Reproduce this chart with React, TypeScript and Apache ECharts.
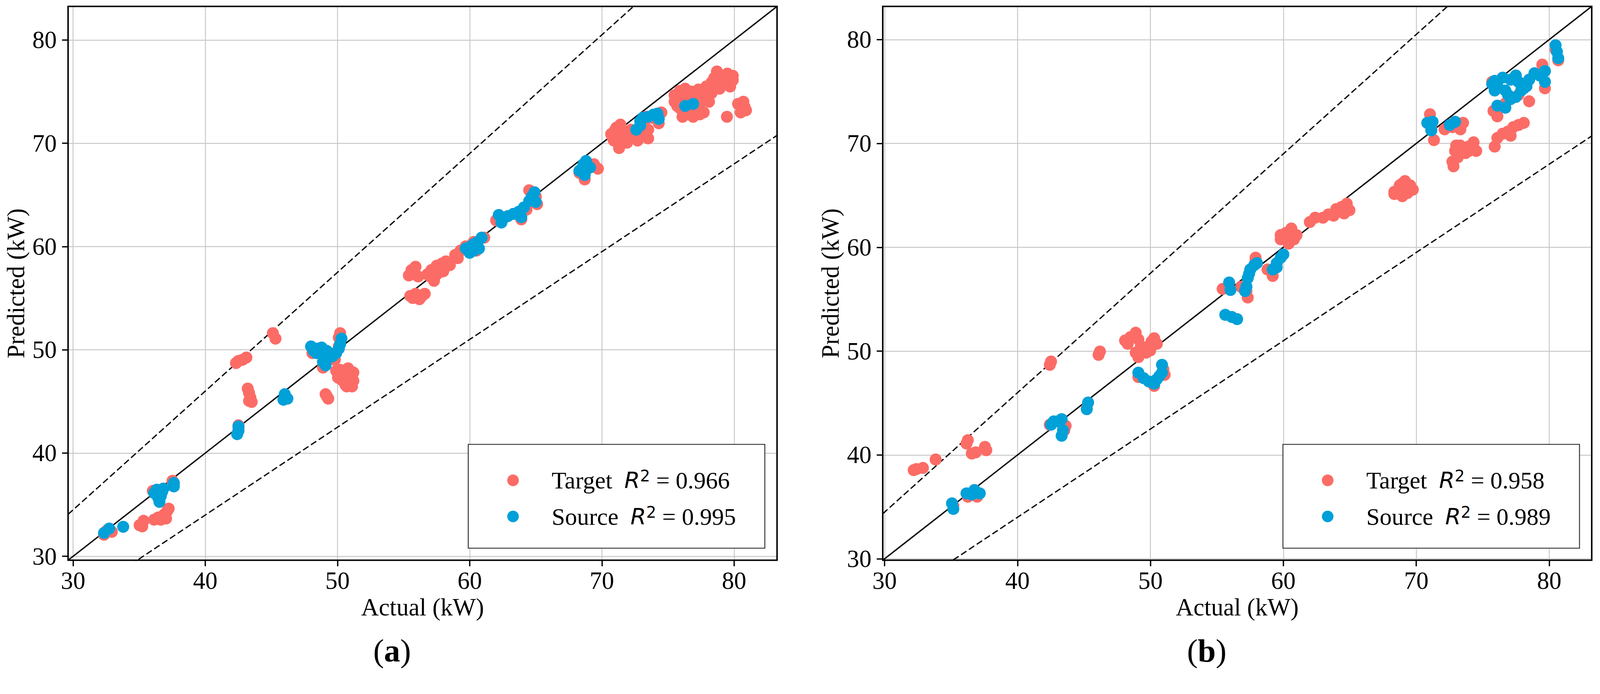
import React, { useEffect, useRef, useState } from 'react';
import * as echarts from 'echarts';

const W = 4254;
const H = 1776;

// ---- data ----
const tickValues = [30, 40, 50, 60, 70, 80];
const limitsA = [29.62, 83.25];
const limitsB = [29.86, 83.2];
const bandFactors = [1.15, 0.85];
const groupNames = ['Target', 'Source'];
const r2A = ['0.966', '0.995'];
const r2B = ['0.958', '0.989'];
const panelLetters = ['a', 'b'];

const targetA: [number, number][] = [
  [32.34, 32.09], [32.93, 32.37], [32.53, 32.47], [35.03, 33.01], [35.33, 33.44], [35.23, 32.9],
  [36.13, 33.55], [36.43, 33.76], [36.73, 33.87], [36.93, 34.09], [37.13, 34.41], [37.23, 34.62], [37.03, 33.66], [36.63, 33.55],
  [37.62, 37.1], [37.52, 37.31], [36.43, 36.13], [36.03, 36.34],
  [42.51, 42.37], [42.51, 42.69],
  [42.51, 48.92], [42.32, 48.71], [43.11, 49.25], [42.81, 49.03],
  [43.21, 46.24], [43.31, 45.81], [43.41, 45.38], [43.51, 44.95], [43.31, 45.05],
  [45.11, 51.61], [45.31, 51.08],
  [49.1, 45.7], [49.3, 45.27], [49.2, 45.48],
  [48.1, 49.68], [48.9, 48.28], [49.8, 49.03], [50.1, 50.32], [50.2, 51.61], [50.1, 51.18],
  [49.9, 47.96], [50.2, 48.06], [50.6, 47.85], [50.9, 47.63], [51.1, 47.31], [51.0, 46.77], [50.7, 46.45], [50.5, 46.88], [50.04, 47.31], [50.4, 47.53], [51.1, 46.45],
  [50.3, 47.1], [50.8, 47.0], [50.6, 46.6], [51.2, 47.8], [50.8, 48.2], [51.2, 47.0],
  [55.4, 57.2], [55.8, 57.41], [56.1, 57.1], [55.9, 58.04], [55.6, 57.72],
  [55.5, 55.21], [55.9, 55.42], [56.4, 55.21], [56.2, 54.9], [55.7, 55.01], [56.6, 55.42],
  [56.8, 57.3], [57.1, 57.72], [57.5, 58.14], [57.9, 58.35], [58.1, 57.93], [57.3, 56.68], [57.7, 57.51], [57.0, 57.1], [58.2, 58.56],
  [58.5, 58.2], [57.5, 57.3], [58.0, 57.6],
  [58.9, 59.18], [59.3, 59.6], [59.7, 60.02], [59.1, 58.87],
  [60.3, 60.44], [61.1, 60.86], [60.5, 59.6],
  [62.0, 62.53], [62.7, 62.84], [63.5, 63.16], [63.9, 62.63], [64.3, 63.57], [64.7, 64.62], [65.0, 64.83], [64.5, 65.45], [65.1, 64.1],
  [68.3, 67.13], [68.8, 67.75], [69.4, 67.96], [69.7, 67.54], [68.7, 66.5],
  [70.7, 70.89], [71.1, 71.52], [71.3, 70.47], [71.3, 69.53], [71.9, 71.1], [71.9, 70.05], [72.3, 70.68], [72.7, 70.26], [73.1, 70.89], [73.5, 70.47], [73.5, 71.31], [70.9, 70.26], [71.7, 70.68], [72.5, 71.1], [73.2, 72.14],
  [71.0, 71.3], [71.5, 70.0], [72.0, 70.4], [72.8, 70.9], [73.3, 71.0], [71.2, 70.8], [72.2, 71.3], [70.8, 70.6], [71.4, 71.8],
  [74.5, 72.98], [74.3, 71.93], [73.8, 72.46], [73.3, 72.56],
  [75.5, 74.65], [75.9, 75.07], [76.3, 75.28], [75.9, 73.4], [76.1, 72.56], [76.7, 74.02], [77.1, 74.44], [77.3, 73.4], [76.9, 72.56], [77.7, 74.86], [77.9, 75.49], [78.1, 74.02], [78.3, 75.9], [78.5, 76.32], [78.7, 76.95], [79.1, 76.53], [79.3, 75.9], [79.5, 76.74], [79.9, 76.53], [79.7, 75.49], [78.9, 75.28], [77.7, 72.98], [76.3, 74.23], [78.3, 74.86], [79.9, 76.11], [75.5, 74.02], [76.7, 72.98],
  [76.0, 74.0], [76.5, 73.2], [77.0, 73.8], [77.5, 74.0], [78.0, 75.2], [78.6, 75.6], [79.0, 76.0], [76.2, 74.8], [76.8, 75.0], [77.3, 75.2], [75.7, 73.6], [76.5, 72.8], [77.4, 72.8],
  [79.46, 72.56],
  [80.3, 73.81], [80.7, 74.02], [80.9, 73.19], [80.5, 72.98], [80.8, 73.5],
];

const sourceA: [number, number][] = [
  [32.34, 32.26], [32.73, 32.69], [33.79, 32.86],
  [36.13, 36.13], [36.43, 35.7], [36.53, 35.27], [36.73, 36.24], [36.83, 36.56], [36.33, 36.45], [36.63, 35.81],
  [37.62, 37.1], [37.62, 36.77],
  [42.51, 42.15], [42.51, 42.58], [42.41, 41.83],
  [46.01, 45.7], [46.21, 45.27], [45.91, 45.16],
  [48.0, 50.32], [48.2, 49.89], [48.5, 50.11], [48.8, 50.22], [49.2, 49.89], [49.4, 49.68], [49.2, 49.14], [49.1, 48.49], [48.9, 48.82], [49.6, 49.35], [49.9, 49.68], [50.1, 50.11], [50.2, 50.54], [50.3, 51.08], [48.4, 49.68], [48.99, 49.57],
  [59.7, 59.81], [60.1, 60.02], [60.3, 59.6], [60.6, 60.44], [60.9, 60.86], [60.3, 60.23], [60.7, 59.81], [60.0, 59.39],
  [62.2, 63.05], [62.4, 62.32], [62.9, 62.95], [63.3, 63.16], [63.7, 63.36], [64.1, 63.78], [64.5, 64.41], [64.7, 64.83], [64.9, 65.25], [65.0, 64.31], [63.9, 62.84],
  [68.3, 67.34], [68.6, 67.96], [68.8, 68.28], [69.1, 67.65], [68.7, 66.92],
  [72.6, 71.31], [72.9, 72.14], [73.1, 72.46], [73.5, 72.56], [73.9, 72.77], [74.2, 72.87], [74.3, 72.35], [72.9, 71.72],
  [76.3, 73.61], [76.9, 73.81],
];

const targetB: [number, number][] = [
  [32.19, 38.54], [32.39, 38.64], [32.88, 38.75],
  [33.84, 39.56],
  [36.26, 41.42], [36.16, 41.1],
  [36.56, 40.14], [36.86, 40.25],
  [37.65, 40.46], [37.55, 40.78],
  [35.17, 35.12], [36.76, 36.62], [36.96, 35.98], [36.26, 35.98],
  [42.52, 49.0], [42.43, 48.68],
  [42.43, 42.91], [43.52, 42.38], [43.62, 42.81],
  [45.21, 44.51],
  [46.2, 49.96], [46.1, 49.64],
  [48.09, 51.02], [48.49, 51.34], [48.89, 51.77], [49.09, 51.13], [49.28, 50.49], [48.89, 49.85], [49.09, 49.42], [49.48, 50.28], [49.88, 50.49], [50.08, 50.92], [50.28, 51.24], [50.48, 50.7], [49.68, 49.85], [48.29, 50.7], [49.98, 50.06],
  [49.09, 47.5], [50.28, 46.65], [51.07, 47.72], [50.97, 48.25],
  [55.43, 55.99], [57.22, 55.78], [57.32, 55.16], [56.82, 56.2],
  [57.91, 59.0], [57.91, 58.69],
  [59.2, 57.24], [58.81, 57.86],
  [59.8, 60.77], [60.2, 61.39], [60.6, 61.81], [60.99, 61.18], [60.4, 60.35], [60.8, 60.77], [59.8, 61.18],
  [61.99, 62.43], [62.39, 62.85], [62.98, 62.85], [63.38, 63.16], [63.78, 63.05], [63.98, 63.68], [64.37, 63.88], [64.77, 64.2], [64.97, 63.57], [64.57, 63.26],
  [68.35, 65.34], [68.75, 65.96], [69.15, 66.38], [69.54, 65.96], [69.74, 65.55], [68.95, 64.92], [68.35, 65.13], [69.34, 65.23], [69.15, 65.75],
  [68.6, 65.5], [69.0, 65.4], [69.4, 65.7], [68.9, 66.1],
  [71.03, 72.81], [71.13, 71.36], [71.33, 70.32], [70.83, 71.98],
  [72.13, 71.36], [72.72, 71.57], [73.32, 71.36], [73.52, 71.98],
  [72.72, 68.25], [73.12, 68.66], [73.52, 69.28], [73.92, 69.7], [74.31, 70.11], [74.51, 69.28], [73.72, 69.08], [72.92, 69.28],
  [73.3, 69.8], [74.0, 69.3], [73.0, 69.8], [72.8, 67.8],
  [75.9, 69.7], [76.1, 70.53], [76.5, 70.94], [76.9, 71.15], [77.3, 71.57], [77.69, 71.78], [78.09, 71.98], [77.1, 70.74],
  [75.81, 73.13], [76.1, 72.61],
  [79.48, 77.59], [75.71, 75.93], [77.69, 74.68], [78.49, 74.06], [79.68, 75.31], [76.7, 73.85],
  [80.48, 79.04], [80.68, 78.01],
];

const sourceB: [number, number][] = [
  [35.07, 35.34], [35.17, 34.8],
  [36.16, 36.3], [36.76, 36.62], [37.16, 36.3], [36.56, 36.19],
  [42.72, 43.23], [43.32, 43.45], [43.42, 42.38], [43.32, 41.85], [42.52, 42.91], [43.02, 43.23],
  [45.31, 45.05], [45.21, 44.41],
  [49.09, 47.93], [49.48, 47.4], [49.88, 47.08], [50.28, 46.86], [50.48, 47.29], [50.87, 47.93], [50.87, 48.68], [50.68, 47.61],
  [55.92, 56.61], [56.02, 55.89],
  [57.22, 56.2], [57.32, 57.03], [57.51, 57.86], [57.81, 58.28], [58.01, 58.48], [57.42, 57.45], [57.12, 55.78],
  [59.2, 57.86], [59.5, 58.48], [59.8, 59.0], [60.0, 59.31], [59.5, 58.07],
  [55.63, 53.5], [56.12, 53.29], [56.52, 53.08],
  [70.83, 71.98], [71.23, 72.09], [71.13, 71.26],
  [72.52, 71.78], [72.92, 72.09],
  [75.71, 75.72], [75.9, 76.03], [76.1, 75.51], [76.5, 76.34], [76.7, 75.1], [76.9, 74.68], [77.1, 76.14], [77.49, 76.55], [77.69, 75.93], [77.89, 75.1], [78.29, 75.51], [78.49, 76.14], [78.89, 76.76], [79.28, 76.55], [79.68, 76.97], [79.68, 75.93], [76.1, 73.64], [76.7, 73.44], [77.1, 74.27], [78.09, 75.31], [75.9, 75.1], [77.49, 74.48],
  [80.48, 79.46], [80.58, 78.84], [80.68, 78.21],
];

// ---- styles / layout (design pixels at 4254 x 1776) ----
const SERIF = 'Liberation Serif';
const TARGET_COLOR = '#FC6C66';
const SOURCE_COLOR = '#00A0D8';

const gridsLayout = [
  { left: 181, top: 17, width: 1885, height: 1472 },
  { left: 2347, top: 17, width: 1885, height: 1472 },
];

function buildOption(s: number) {
  const p = (v: number) => v * s;
  const FS = p(65);
  const LFS = p(64);
  const labelFmt = (v: number) =>
    Math.abs(v - Math.round(v)) < 1e-6 && Math.round(v) % 10 === 0 ? String(Math.round(v)) : '';

  const makeX = (gridIndex: number, lim: number[]) => ({
    type: 'value',
    gridIndex,
    min: lim[0],
    max: lim[1],
    name: 'Actual (kW)',
    nameLocation: 'middle',
    nameGap: p(92),
    nameTextStyle: { fontFamily: SERIF, fontSize: FS, color: '#000' },
    axisLine: { show: false },
    axisTick: { show: true, length: p(16), lineStyle: { color: '#000', width: p(3.5) }, customValues: tickValues },
    axisLabel: { fontFamily: SERIF, fontSize: FS, color: '#000', margin: p(22), customValues: tickValues, formatter: labelFmt },
    splitLine: { show: true, lineStyle: { color: '#c8c8c8', width: p(2.5) } },
  });

  const makeY = (gridIndex: number, lim: number[]) => ({
    type: 'value',
    gridIndex,
    min: lim[0],
    max: lim[1],
    name: 'Predicted (kW)',
    nameLocation: 'middle',
    nameGap: p(106),
    nameTextStyle: { fontFamily: SERIF, fontSize: FS, color: '#000' },
    axisLine: { show: false },
    axisTick: { show: true, length: p(16), lineStyle: { color: '#000', width: p(3.5) }, customValues: tickValues },
    axisLabel: { fontFamily: SERIF, fontSize: FS, color: '#000', margin: p(30), customValues: tickValues, formatter: labelFmt },
    splitLine: { show: true, lineStyle: { color: '#c8c8c8', width: p(2.5) } },
  });

  const refLines = (idx: number, lim: number[]) => {
    const [lo, hi] = lim;
    const base = { type: 'line', xAxisIndex: idx, yAxisIndex: idx, symbol: 'none', silent: true, clip: true, z: 1, legendHoverLink: false };
    const out: any[] = [
      { ...base, name: `identity-${idx}`, data: [[lo, lo], [hi, hi]], lineStyle: { color: '#000', width: p(3.6), type: 'solid' } },
    ];
    bandFactors.forEach((f, i) => {
      out.push({
        ...base,
        name: `band-${idx}-${i}`,
        data: [[lo, lo * f], [hi, hi * f]],
        lineStyle: { color: '#000', width: p(3.4), type: [p(17), p(8)] },
      });
    });
    return out;
  };

  const scatter = (name: string, idx: number, data: [number, number][], color: string, z: number) => ({
    type: 'scatter',
    name,
    xAxisIndex: idx,
    yAxisIndex: idx,
    data,
    symbol: 'circle',
    symbolSize: p(32),
    itemStyle: { color, opacity: 1 },
    z,
    silent: true,
  });

  const legendRich = {
    sp: { width: p(82), fontSize: p(10) },
    n: { fontFamily: SERIF, fontSize: LFS, lineHeight: LFS, color: '#000' },
    r: { fontFamily: 'DejaVu Sans', fontStyle: 'italic', fontSize: p(60), lineHeight: LFS, color: '#000' },
    s: { fontFamily: 'DejaVu Sans', fontSize: p(42), lineHeight: p(24), verticalAlign: 'top', color: '#000' },
  };

  const boxLeftOf = (idx: number) => gridsLayout[idx].left + gridsLayout[idx].width - 32.5 - 788.5;

  const legendFor = (idx: number, r2: string[]) => ({
    show: true,
    data: groupNames.map((n) => `${n} (${panelLetters[idx]})`),
    orient: 'vertical',
    left: p(boxLeftOf(idx) + 103.5),
    top: p(1181 + 63.5),
    padding: 0,
    itemWidth: p(31),
    itemHeight: p(31),
    itemGap: p(31.5),
    icon: 'circle',
    selectedMode: false,
    z: 12,
    textStyle: { rich: legendRich },
    formatter: (name: string) => {
      const i = groupNames.findIndex((n) => name.startsWith(n));
      return `{sp| }{n|${groupNames[i]}  }{r|R}{s|2}{n| = ${r2[i]}}`;
    },
  });

  const legendFrame = (idx: number) => ({
    type: 'rect',
    z: 11,
    shape: { x: p(boxLeftOf(idx)), y: p(1181), width: p(788.5), height: p(276) },
    style: { fill: '#fff', stroke: '#333', lineWidth: p(2.5) },
  });

  const plotFrame = (idx: number) => {
    const g = gridsLayout[idx];
    return {
      type: 'rect',
      z: 10,
      shape: { x: p(g.left), y: p(g.top), width: p(g.width), height: p(g.height) },
      style: { fill: 'none', stroke: '#000', lineWidth: p(4) },
    };
  };

  const panelLabel = (idx: number) => {
    const g = gridsLayout[idx];
    return {
      type: 'text',
      z: 10,
      x: p(g.left + g.width / 2 - 81),
      y: p(1729),
      style: {
        text: `{p|(}{b|${panelLetters[idx]}}{p|)}`,
        align: 'center',
        verticalAlign: 'middle',
        rich: {
          p: { fontFamily: SERIF, fontSize: p(86), color: '#000' },
          b: { fontFamily: SERIF, fontSize: p(86), fontWeight: 'bold', color: '#000' },
        },
      },
    };
  };

  return {
    animation: false,
    backgroundColor: '#ffffff',
    grid: gridsLayout.map((g) => ({
      left: p(g.left), top: p(g.top), width: p(g.width), height: p(g.height), containLabel: false, show: false,
    })),
    xAxis: [makeX(0, limitsA), makeX(1, limitsB)],
    yAxis: [makeY(0, limitsA), makeY(1, limitsB)],
    legend: [legendFor(0, r2A), legendFor(1, r2B)],
    graphic: [plotFrame(0), plotFrame(1), legendFrame(0), legendFrame(1), panelLabel(0), panelLabel(1)],
    series: [
      ...refLines(0, limitsA),
      ...refLines(1, limitsB),
      scatter('Target (a)', 0, targetA, TARGET_COLOR, 2),
      scatter('Source (a)', 0, sourceA, SOURCE_COLOR, 3),
      scatter('Target (b)', 1, targetB, TARGET_COLOR, 2),
      scatter('Source (b)', 1, sourceB, SOURCE_COLOR, 3),
    ],
  };
}

export default function App() {
  const ref = useRef<HTMLDivElement>(null);
  const [scale] = useState(() => {
    document.body.style.margin = '0';
    document.body.style.overflow = 'hidden';
    const vw = document.documentElement.clientWidth || window.innerWidth || W;
    const vh = window.innerHeight || H;
    return Math.min(vw / W, vh / H, 1);
  });
  useEffect(() => {
    document.body.style.margin = '0';
    document.body.style.overflow = 'hidden';
    if (!ref.current) return;
    const chart = echarts.init(ref.current, null, { renderer: 'svg' });
    chart.setOption(buildOption(scale) as any);
    return () => chart.dispose();
  }, [scale]);
  return <div ref={ref} style={{ width: W * scale, height: H * scale }} />;
}
